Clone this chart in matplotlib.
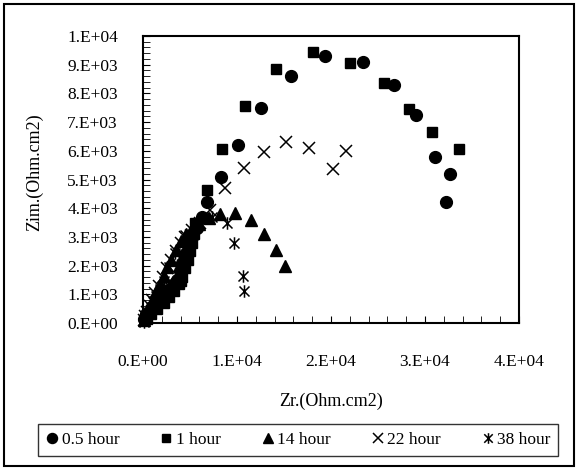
import math
import matplotlib
matplotlib.use("Agg")
import matplotlib.pyplot as plt
from matplotlib.patches import Rectangle
from matplotlib.path import Path
from matplotlib.ticker import MultipleLocator, FuncFormatter

plt.rcParams['font.family'] = ['Liberation Serif', 'DejaVu Serif']

# Data (Zr, Zim) in Ohm.cm2
zr_05 = [100, 300, 600, 800, 1100, 1400, 1700, 2000, 2300, 2600, 2900, 3200, 3400, 3600, 3900, 4200, 4500, 4800,
         5200, 5700, 6300, 6800, 8300, 10100, 12500, 15700, 19400, 23400, 26700, 29000, 31100, 32700, 32200]
zi_05 = [150, 300, 350, 500, 600, 700, 800, 900, 1000, 1100, 1200, 1300, 1400, 1500, 1800, 2100, 2400, 2700,
         3000, 3300, 3700, 4200, 5100, 6200, 7500, 8600, 9300, 9100, 8300, 7250, 5800, 5200, 4200]

zr_1 = [400, 900, 1500, 2200, 2800, 3300, 3800, 4000, 4200, 4500, 4800, 5000, 5200, 5400, 5500,
        6800, 8400, 10850, 14100, 18050, 22000, 25650, 28250, 30700, 33600]
zi_1 = [150, 300, 500, 700, 900, 1100, 1350, 1450, 1600, 1900, 2200, 2500, 2800, 3100, 3500,
        4650, 6050, 7550, 8850, 9450, 9050, 8350, 7450, 6650, 6050]

zr_14 = [100, 300, 550, 800, 1100, 1400, 1800, 2200, 2600, 3000, 3500, 4000, 4600, 5200, 6000, 7000,
         8200, 9800, 11500, 12900, 14100, 15100]
zi_14 = [100, 250, 450, 650, 850, 1100, 1350, 1650, 1950, 2200, 2550, 2850, 3100, 3300, 3450, 3650,
         3800, 3850, 3600, 3100, 2550, 2000]

zr_22 = [100, 250, 450, 700, 1000, 1300, 1700, 2100, 2500, 3000, 3500, 4000, 4500, 5200, 6100,
         7100, 8700, 10700, 12900, 15200, 17700, 20200, 21600]
zi_22 = [100, 250, 400, 600, 800, 1050, 1300, 1600, 1900, 2200, 2500, 2800, 3000, 3250, 3500,
         3950, 4700, 5400, 5950, 6300, 6100, 5350, 6000]

zr_38 = [100, 200, 400, 600, 800, 1100, 1400, 1800, 2200, 2800, 3400, 4500, 5500, 7300, 8900, 9700, 10600, 10700]
zi_38 = [50, 150, 250, 400, 550, 750, 950, 1200, 1450, 1950, 2450, 3050, 3300, 3700, 3500, 2800, 1650, 1100]

labels = ["0.5 hour", "1 hour", "14 hour", "22 hour", "38 hour"]

# Excel-style star marker: X with a vertical bar
star = Path([(-1, -1), (1, 1), (-1, 1), (1, -1), (0, -1.25), (0, 1.25)],
            [Path.MOVETO, Path.LINETO, Path.MOVETO, Path.LINETO, Path.MOVETO, Path.LINETO])

W, H = 579, 470
fig = plt.figure(figsize=(W / 100, H / 100), dpi=100)
ax = fig.add_axes([143 / W, 1 - 323 / H, (519 - 143) / W, (323 - 36) / H])

kw = dict(linestyle='none', color='black', clip_on=False)
ax.plot(zr_05, zi_05, marker='o', markersize=8.5, label=labels[0], **kw)
ax.plot(zr_1, zi_1, marker='s', markersize=6.5, label=labels[1], **kw)
ax.plot(zr_14, zi_14, marker='^', markersize=8.5, label=labels[2], **kw)
ax.plot(zr_22, zi_22, marker='x', markersize=8, markeredgewidth=1.1, label=labels[3], **kw)
ax.plot(zr_38, zi_38, marker=star, markersize=9, markeredgewidth=1.1, markerfacecolor='none', label=labels[4], **kw)

ax.set_xlim(0, 40000)
ax.set_ylim(0, 10000)
ax.xaxis.set_major_locator(MultipleLocator(10000))
ax.xaxis.set_minor_locator(MultipleLocator(2000))
ax.yaxis.set_major_locator(MultipleLocator(1000))
ax.yaxis.set_minor_locator(MultipleLocator(200))


def sci(v, pos):
    if v == 0:
        return "0.E+00"
    e = int(math.floor(math.log10(abs(v)) + 1e-9))
    m = int(round(v / 10 ** e))
    return f"{m}.E+{e:02d}"


ax.xaxis.set_major_formatter(FuncFormatter(sci))
ax.yaxis.set_major_formatter(FuncFormatter(sci))
ax.tick_params(axis='both', which='both', direction='in', labelsize=12.5, color='black', length=5)
ax.tick_params(axis='x', which='both', pad=22)
ax.tick_params(axis='y', which='both', pad=18)
for s in ax.spines.values():
    s.set_linewidth(1.5)
    s.set_color('black')

fig.text(35 / W, 1 - 172 / H, "Zim.(Ohm.cm2)", rotation=90, ha='center', va='center', fontsize=13)
fig.text(331 / W, 1 - 401 / H, "Zr.(Ohm.cm2)", ha='center', va='center', fontsize=13)

leg = fig.legend(loc='center', bbox_to_anchor=(298 / W, 1 - 440 / H), ncol=5, frameon=True,
                 fancybox=False, edgecolor='black', fontsize=12.5, handlelength=0.8,
                 handletextpad=0.15, columnspacing=2.3, borderpad=0.45, markerscale=0.85)
leg.get_frame().set_linewidth(1.0)

fig.add_artist(Rectangle((4 / W, 4 / H), (574 - 4) / W, (466 - 4) / H, transform=fig.transFigure,
                         fill=False, edgecolor='black', linewidth=1.5))

fig.savefig("out.png", dpi=100)
